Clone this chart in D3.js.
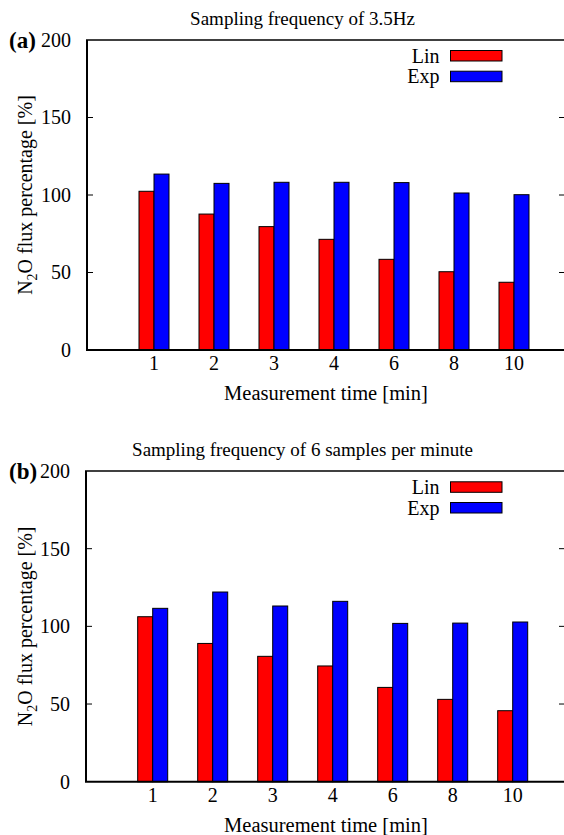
<!DOCTYPE html>
<html>
<head>
<meta charset="utf-8">
<script src="https://cdn.jsdelivr.net/npm/d3@7"></script>
<style>
  html, body { margin: 0; padding: 0; background: #fff; }
  svg { display: block; }
  text { font-family: "Liberation Serif", "Times New Roman", serif; fill: #000; }
</style>
</head>
<body>
<svg id="chart" width="564" height="835" font-family="Liberation Serif"></svg>
<script>
// ---- data ----
const categories = ["1", "2", "3", "4", "6", "8", "10"];
const seriesNames = ["Lin", "Exp"];
const linA = [102.4, 87.7, 79.6, 71.4, 58.5, 50.5, 43.7];
const expA = [113.5, 107.5, 108.2, 108.2, 108.0, 101.3, 100.2];
const linB = [106.2, 89.0, 80.7, 74.5, 60.7, 53.0, 45.7];
const expB = [111.6, 122.1, 113.1, 116.1, 101.9, 102.1, 102.8];
const yTicks = [0, 50, 100, 150, 200];
const titles = ["Sampling frequency of 3.5Hz", "Sampling frequency of 6 samples per minute"];
const panelLabels = ["(a)", "(b)"];
const colors = ["#ff0000", "#0000ff"];

const svg = d3.select("#chart");

const panels = [
  { lin: linA, exp: expA, title: titles[0], label: panelLabels[0],
    left: 87, right: 566, top: 40, bottom: 350, bandStart: 124, legendTop: 50.5 },
  { lin: linB, exp: expB, title: titles[1], label: panelLabels[1],
    left: 86, right: 566, top: 471, bottom: 781.7, bandStart: 122.7, legendTop: 481.8 }
];

panels.forEach(p => {
  const g = svg.append("g");
  const x = d3.scaleBand().domain(categories).range([p.bandStart, p.bandStart + 60 * categories.length]);
  const y = d3.scaleLinear().domain([0, 200]).range([p.bottom, p.top]);
  const bw = x.bandwidth() / 4;

  // title
  g.append("text").attr("x", 302.5).attr("y", p.top - 15)
    .attr("text-anchor", "middle").style("font-size", "19px").text(p.title);

  // panel label
  g.append("text").attr("x", 9).attr("y", p.top + 8)
    .style("font-size", "23px").style("font-weight", "bold").text(p.label);

  // bars
  const series = [p.lin, p.exp];
  series.forEach((vals, si) => {
    g.selectAll(null).data(vals).enter().append("rect")
      .attr("x", (d, i) => x(categories[i]) + x.bandwidth() / 2 - bw + si * bw)
      .attr("y", d => y(d))
      .attr("width", bw)
      .attr("height", d => y(0) - y(d))
      .attr("fill", colors[si])
      .attr("stroke", "#000")
      .attr("stroke-width", 1);
  });

  // left axis labels
  const yAxis = d3.axisLeft(y).tickValues(yTicks).tickSize(0).tickPadding(16);
  const ya = g.append("g").attr("transform", `translate(${p.left},0)`).call(yAxis);
  ya.attr("font-family", null).attr("font-size", null);
  ya.select(".domain").remove();
  ya.selectAll("text").style("font-size", "20px");
  // inward ticks left and mirrored right
  const inner = yTicks.filter(t => t > 0 && t < 200);
  g.selectAll(null).data(inner).enter().append("line")
    .attr("x1", p.left).attr("x2", p.left + 6)
    .attr("y1", d => y(d)).attr("y2", d => y(d))
    .attr("stroke", "#000").attr("stroke-width", 1);
  g.selectAll(null).data(inner).enter().append("line")
    .attr("x1", 559).attr("x2", 566)
    .attr("y1", d => y(d)).attr("y2", d => y(d))
    .attr("stroke", "#000").attr("stroke-width", 1);

  // frame
  g.append("line").attr("x1", p.left).attr("x2", p.left).attr("y1", p.top).attr("y2", p.bottom)
    .attr("stroke", "#000").attr("stroke-width", 2);
  g.append("line").attr("x1", p.left - 1).attr("x2", p.right).attr("y1", p.bottom).attr("y2", p.bottom)
    .attr("stroke", "#000").attr("stroke-width", 2);
  g.append("line").attr("x1", p.left - 1).attr("x2", p.right).attr("y1", p.top).attr("y2", p.top)
    .attr("stroke", "#000").attr("stroke-width", 1.5);

  // x axis labels
  const xAxis = d3.axisBottom(x).tickSize(0).tickPadding(6);
  const xa = g.append("g").attr("transform", `translate(0,${p.bottom})`).call(xAxis);
  xa.attr("font-family", null).attr("font-size", null);
  xa.select(".domain").remove();
  xa.selectAll("text").style("font-size", "20px");

  g.append("text").attr("x", 326).attr("y", p.bottom + 50)
    .attr("text-anchor", "middle").style("font-size", "20.5px").text("Measurement time [min]");

  // y label
  const yl = g.append("text")
    .attr("transform", `translate(32,${(p.top + p.bottom) / 2}) rotate(-90)`)
    .attr("text-anchor", "middle").style("font-size", "20px");
  yl.append("tspan").text("N");
  yl.append("tspan").attr("dy", 5).style("font-size", "14px").text("2");
  yl.append("tspan").attr("dy", -5).text("O flux percentage [%]");

  // legend
  seriesNames.forEach((name, si) => {
    const ty = p.legendTop + si * 20.7;
    g.append("text").attr("x", 439.5).attr("y", ty + 12)
      .attr("text-anchor", "end").style("font-size", "20px").text(name);
    g.append("rect").attr("x", 450.5).attr("y", ty).attr("width", 51.5).attr("height", 10.5)
      .attr("fill", colors[si]).attr("stroke", "#000").attr("stroke-width", 1);
  });
});
</script>
</body>
</html>
